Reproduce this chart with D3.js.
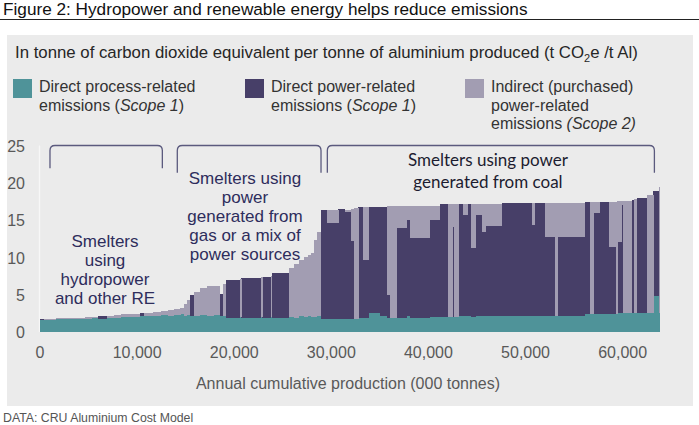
<!DOCTYPE html>
<html>
<head>
<meta charset="utf-8">
<script src="https://cdn.jsdelivr.net/npm/d3@7/dist/d3.min.js"></script>
<style>
  html, body { margin: 0; padding: 0; background: #ffffff; }
  svg { display: block; }
</style>
</head>
<body>
<svg id="chart" width="699" height="425"></svg>
<script>
// ---------- DATA ----------
// production of each smelter (000 tonnes), sorted along the cost curve
const widths = [
  500,1200,1000,900,1100,700,600,900,800,700,900,1000,500,900,800,700,600,700,400,
  300,300,400,600,700,700,700,300,300,1450,150,2000,150,850,100,1800,
  500,500,500,400,400,300,250,450,
  580,1195,690,590,340,440,515,590,1130,750,280,690,1030,340,1990,1100,855,455,135,445,
  515,410,350,545,585,445,1615,1545,1545,340,1030,1030,280,2810,515,340,690,960,690,135,
  455,165,865,235,280,1030,680,535,80
];
// Direct process-related emissions (Scope 1), t CO2e / t Al
const processEm = [
  1.55,1.65,1.7,1.72,1.75,1.8,1.85,1.8,1.9,1.85,2.0,2.05,2.1,2.15,2.2,2.25,2.1,2.3,2.35,
  2.2,2.3,2.15,2.2,2.3,2.2,2.3,2.2,2.1,1.9,2.0,1.9,2.0,1.9,2.0,1.85,
  2.0,1.9,2.1,2.0,2.1,2.0,2.0,2.1,
  1.8,1.75,1.8,1.8,1.8,1.8,1.85,1.9,2.5,2.1,1.9,1.85,1.9,2.2,1.9,1.95,2.0,2.0,2.0,2.0,
  2.1,2.1,2.1,2.0,2.1,2.1,2.1,2.1,2.15,2.1,2.1,2.1,2.1,2.1,2.4,2.4,2.4,2.4,2.4,2.4,
  2.5,2.5,2.5,2.5,2.5,2.5,2.5,4.8,2.5
];
// Direct power-related emissions (Scope 1)
const directPower = [
  0.15,0,0,0.05,0,0,0,0.3,0,0,0,0,0.4,0,0,0,0,0,0,
  0,0,2.75,0,0,0,0,2.9,0,5.1,0,5.4,0,5.5,0,6.05,
  0,0,0,0,0,0,0,0,
  14.6,12.85,14.7,14.3,10.4,0,14.85,7.7,14.3,14.7,3.05,0,12.1,12.8,10.7,13.05,15.1,0,12.1,0,
  15.1,13.6,15.1,9.2,13.6,11.3,12.1,15.15,15.1,12.2,15.2,10.6,0,10.6,15.0,0,13.5,15.05,8.95,0,
  9.5,14.5,0,15.2,0,15.4,0,14.1,0
];
// Indirect (purchased) power-related emissions (Scope 2)
const indirect = [
  0.05,0.12,0.12,0.1,0.15,0.15,0.12,0,0.25,0.4,0.35,0.4,0.05,0.4,0.45,0.5,0.8,0.75,0.85,
  1.5,2.0,0,3.2,3.6,3.9,3.9,0,4.4,0,5.1,0,5.35,0,5.5,0,
  6.6,7.2,7.5,8.0,8.2,8.6,10.3,11.3,
  0,1.8,0,0.3,4.3,14.8,0,7.1,0,0,11.9,15.0,2.9,1.9,4.3,1.95,0,15.1,3.0,15.1,
  0,1.5,0,6.0,1.5,3.8,3.0,0,0,3.0,0,4.6,15.2,4.65,0,15.0,1.5,0,6.1,15.05,
  5.5,0.5,15.05,0,15.3,0,15.9,0,16.9
];
const seriesKeys = ["process", "power", "indirect"];
// *...* marks italic runs
const seriesLabels = [
  ["Direct process-related", "emissions (*Scope 1*)"],
  ["Direct power-related", "emissions (*Scope 1*)"],
  ["Indirect (purchased)", "power-related", "emissions *(Scope 2)*"]
];
const seriesColors = ["#4f9399", "#473f68", "#a29db2"];
const yTicks = [0, 5, 10, 15, 20, 25];
const xTicks = [0, 10000, 20000, 30000, 40000, 50000, 60000];
// bracket groups: [start, end] in 000 t, bottom in t CO2e
const groupStart = [1080, 14190, 29640];
const groupEnd = [12650, 28990, 63320];
const groupBottom = [21.95, 21.36, 21.36];

// ---------- CHART ----------
const svg = d3.select("#chart");
const W = 699, H = 425;
const ink = "#595959";
const sans = "Liberation Sans, Arial, sans-serif";

// white page, grey panel
svg.append("rect").attr("x", 0).attr("y", 0).attr("width", W).attr("height", H).attr("fill", "#ffffff");
svg.append("rect").attr("x", 7).attr("y", 35).attr("width", 686).attr("height", 371).attr("fill", "#ebebeb");

// figure title + rule
svg.append("text").attr("x", 3).attr("y", 15)
  .attr("font-family", sans).attr("font-size", 17.2)
  .attr("fill", "#111").text("Figure 2: Hydropower and renewable energy helps reduce emissions");
svg.append("line").attr("x1", 0).attr("x2", W).attr("y1", 19.5).attr("y2", 19.5)
  .attr("stroke", "#222").attr("stroke-width", 1);

// subtitle
const sub = svg.append("text").attr("x", 15).attr("y", 58)
  .attr("font-family", sans).attr("font-size", 16.8).attr("fill", "#262626");
sub.append("tspan").text("In tonne of carbon dioxide equivalent per tonne of aluminium produced (t CO");
sub.append("tspan").attr("font-size", 11).attr("dy", 4).text("2");
sub.append("tspan").attr("dy", -4).text("e /t Al)");

// legend
const legX = [13, 245, 465];
seriesKeys.forEach((k, i) => {
  svg.append("rect").attr("x", legX[i]).attr("y", 79).attr("width", 19).attr("height", 19)
    .attr("fill", seriesColors[i]);
  seriesLabels[i].forEach((line, j) => {
    const t = svg.append("text").attr("x", legX[i] + 26).attr("y", 92 + j * 18.5)
      .attr("font-family", sans).attr("font-size", 16).attr("fill", "#333");
    line.split("*").forEach((part, p) => {
      if (part.length) t.append("tspan").attr("font-style", p % 2 ? "italic" : "normal").text(part);
    });
  });
});

// scales
const x = d3.scaleLinear().domain([0, 64000]).range([39.5, 661]);
const y = d3.scaleLinear().domain([0, 25]).range([332, 145.5]);

// rows
const ends = d3.cumsum(widths);
const rows = widths.map((w, i) => ({
  x0: ends[i] - w, x1: ends[i],
  process: processEm[i], power: directPower[i], indirect: indirect[i]
}));
const stacked = d3.stack().keys(seriesKeys)(rows);

// y axis (faint line + labels)
svg.append("line").attr("x1", x(0)).attr("x2", x(0)).attr("y1", y(25)).attr("y2", y(0))
  .attr("stroke", "#f7f7f7").attr("stroke-width", 1.2);

const yAxis = d3.axisLeft(y).tickValues(yTicks).tickSize(0).tickPadding(0).tickFormat(d3.format("d"));
const gy = svg.append("g").attr("transform", "translate(25,0)").call(yAxis);
gy.select(".domain").remove();
gy.selectAll("text").attr("font-family", sans)
  .attr("font-size", 16).attr("fill", ink).attr("dy", "0.35em");

const xAxis = d3.axisBottom(x).tickValues(xTicks).tickSize(0).tickPadding(0).tickFormat(d3.format(","));
const gx = svg.append("g").attr("transform", "translate(0,352)").call(xAxis);
gx.select(".domain").remove();
gx.selectAll("text").attr("font-family", sans)
  .attr("font-size", 16).attr("fill", ink).attr("dy", "0.35em");

// bars
const gBars = svg.append("g").attr("shape-rendering", "crispEdges");
stacked.forEach((layer, i) => {
  gBars.append("g").attr("fill", seriesColors[i])
    .selectAll("rect").data(layer.filter(d => d[1] - d[0] > 0)).join("rect")
    .attr("x", d => x(d.data.x0))
    .attr("width", d => Math.max(0.6, x(d.data.x1) - x(d.data.x0) + 0.3))
    .attr("y", d => y(d[1]))
    .attr("height", d => y(d[0]) - y(d[1]));
});

// x axis title
svg.append("text").attr("x", 348).attr("y", 389).attr("text-anchor", "middle")
  .attr("font-family", sans).attr("font-size", 16)
  .attr("fill", ink).text("Annual cumulative production (000 tonnes)");

// brackets
groupStart.forEach((s, i) => {
  const x0 = x(s), x1 = x(groupEnd[i]), yt = y(25), yb = y(groupBottom[i]), r = 5;
  const p = d3.path();
  p.moveTo(x0, yb);
  p.lineTo(x0, yt + r);
  p.quadraticCurveTo(x0, yt, x0 + r, yt);
  p.lineTo(x1 - r, yt);
  p.quadraticCurveTo(x1, yt, x1, yt + r);
  p.lineTo(x1, yb);
  svg.append("path").attr("d", p.toString()).attr("fill", "none")
    .attr("stroke", "#5b5a7e").attr("stroke-width", 1.3);
});

// annotations
function annot(lines, cx, y0, lh, family, size, color) {
  lines.forEach((l, j) => {
    svg.append("text").attr("x", cx).attr("y", y0 + j * lh).attr("text-anchor", "middle")
      .attr("font-family", family).attr("font-size", size).attr("fill", color).text(l);
  });
}
annot(["Smelters", "using", "hydropower", "and other RE"], 105, 247, 19,
  sans, 17, "#2e2d5c");
annot(["Smelters using", "power", "generated from", "gas or a mix of", "power sources"], 245, 184, 19,
  sans, 17, "#2e2d5c");
annot(["Smelters using power", "generated from coal"], 488, 166, 21.5,
  "Lato, Open Sans, sans-serif", 17, "#1c1c30");

// source
svg.append("text").attr("x", 3).attr("y", 422)
  .attr("font-family", sans).attr("font-size", 12.3)
  .attr("fill", "#555").text("DATA: CRU Aluminium Cost Model");
</script>
</body>
</html>
